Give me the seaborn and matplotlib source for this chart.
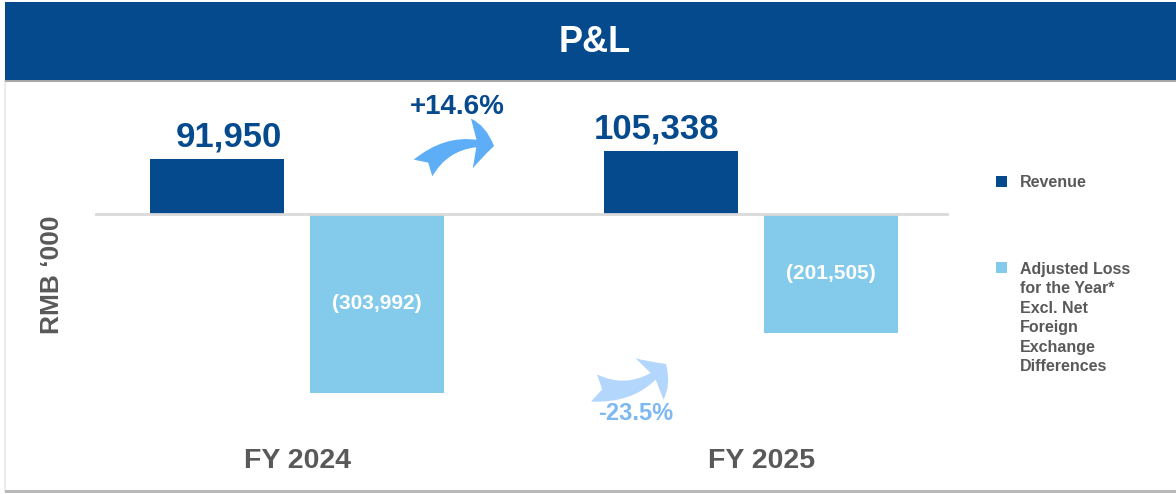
import matplotlib
matplotlib.use("Agg")
import matplotlib.pyplot as plt
from matplotlib.patches import Rectangle, FancyArrowPatch
from matplotlib.transforms import ScaledTranslation
import pandas as pd
import seaborn as sns

# ---- data -------------------------------------------------------------
years = ["FY 2024", "FY 2025"]
series = ["Revenue", "Adjusted Loss"]
revenue = [91950, 105338]
adjusted_loss = [-303992, -201505]
legend_labels = [
    "Revenue",
    "Adjusted Loss\nfor the Year*\nExcl. Net\nForeign\nExchange\nDifferences",
]
growth_labels = ["+14.6%", "-23.5%"]
title = "P&L"
y_title = "RMB \u2018000"

# ---- style ------------------------------------------------------------
NAVY = "#064a8e"
SKY = "#84cbeb"
GREY = "#595959"
ARROW_UP = "#5eadf7"
ARROW_DOWN = "#b3d6fc"
TEXT_DOWN = "#7db8f3"

df = pd.DataFrame({
    "year": years * 2,
    "series": [series[0]] * len(years) + [series[1]] * len(years),
    "value": revenue + adjusted_loss,
})

sns.set_style("white")
plt.rcParams["font.family"] = ["Liberation Sans", "DejaVu Sans"]
plt.rcParams["font.weight"] = "bold"

W, H = 1176, 494
fig = plt.figure(figsize=(W / 100, H / 100), dpi=100, facecolor="white")


def px_box(x0, y0, x1, y1):
    """Axes rectangle from pixel edges (origin top-left)."""
    return [x0 / W, 1 - y1 / H, (x1 - x0) / W, (y1 - y0) / H]


# ---- background card and header banner ---------------------------------
bg = fig.add_axes([0, 0, 1, 1], zorder=0)
bg.set_xlim(0, W)
bg.set_ylim(H, 0)
bg.axis("off")
bg.add_patch(Rectangle((4, 80), 1.5, 412, facecolor="#ececec", edgecolor="none"))
bg.add_patch(Rectangle((5, 490), W - 5, 3, facecolor="#b8b8b8", edgecolor="none"))
bg.add_patch(Rectangle((5, 80), W - 5, 2, facecolor="#a8a8a8", edgecolor="none"))
bg.add_patch(Rectangle((5, 2), W - 5, 78, facecolor=NAVY, edgecolor="none"))
bg.text(595, 42, title, color="white", fontsize=26, fontweight="bold",
        ha="center", va="center")

# ---- bar chart ----------------------------------------------------------
ax = fig.add_axes(px_box(95, 90, 949, 420), zorder=1)
ax.patch.set_alpha(0)
sns.barplot(data=df, x="year", y="value", hue="series", order=years,
            hue_order=series, palette=[NAVY, SKY], saturation=1,
            width=0.705, gap=0.1625, linewidth=0, legend=False, ax=ax)
ax.set_xlim(-0.445, 1.436)
ax.set_ylim(-348985, 208715)
ax.axhline(0, color="#d9d9d9", lw=2, zorder=3)

rev_texts = ax.bar_label(ax.containers[0], labels=[f"{v:,}" for v in revenue],
                         padding=4, fontsize=25, color=NAVY, fontweight="bold")
# nudge the revenue captions sideways (offsets in points)
for t, dx in zip(rev_texts, [8.5, -10.5]):
    t.xyann = (dx, 4)
ax.bar_label(ax.containers[1], labels=[f"({-v:,})" for v in adjusted_loss],
             label_type="center", fontsize=15, color="white", fontweight="bold")

ax.set_yticks([])
ax.set_xlabel("")
ax.tick_params(axis="x", length=0, pad=20, labelsize=20.5, labelcolor=GREY)
ax.set_ylabel(y_title, fontsize=19, color=GREY, fontweight="bold", va="center")
ax.yaxis.set_label_coords(-0.050, 0.44)
sns.despine(ax=ax, left=True, bottom=True)

# second category caption sits a little right of its group centre
lbl = ax.get_xticklabels()[1]
lbl.set_transform(lbl.get_transform() + ScaledTranslation(0.11, 0, fig.dpi_scale_trans))

# ---- growth arrows, legend ---------------------------------------------
ov = fig.add_axes([0, 0, 1, 1], zorder=2)
ov.set_xlim(0, W)
ov.set_ylim(H, 0)
ov.axis("off")

ov.add_patch(FancyArrowPatch(
    (423, 168), (494, 146), connectionstyle="arc3,rad=-0.3",
    arrowstyle="fancy,head_length=0.4,head_width=0.9,tail_width=0.45",
    mutation_scale=40, facecolor=ARROW_UP, edgecolor="none",
    shrinkA=0, shrinkB=0))
ov.text(457, 107, growth_labels[0], color=NAVY, fontsize=20,
        fontweight="bold", ha="center", va="center")

ov.add_patch(FancyArrowPatch(
    (594, 388), (666, 364), connectionstyle="arc3,rad=0.3",
    arrowstyle="fancy,head_length=0.4,head_width=0.9,tail_width=0.5",
    mutation_scale=40, facecolor=ARROW_DOWN, edgecolor="none",
    shrinkA=0, shrinkB=0))
ov.text(636, 413, growth_labels[1], color=TEXT_DOWN, fontsize=17,
        fontweight="bold", ha="center", va="center")

ov.add_patch(Rectangle((996, 176), 11, 11, facecolor=NAVY, edgecolor="none"))
ov.text(1020, 182.5, legend_labels[0], color=GREY, fontsize=11.5,
        fontweight="bold", ha="left", va="center")
ov.add_patch(Rectangle((996, 262), 11, 11, facecolor=SKY, edgecolor="none"))
ov.text(1020, 262, legend_labels[1], color=GREY, fontsize=11.5,
        fontweight="bold", ha="left", va="top", linespacing=1.37)

fig.savefig("out.png", dpi=100, facecolor="white")
